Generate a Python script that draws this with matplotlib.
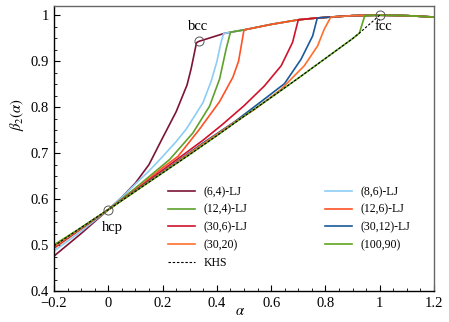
import numpy as np
import matplotlib
matplotlib.use('Agg')
import matplotlib.pyplot as plt
from matplotlib.ticker import MultipleLocator, FuncFormatter

plt.rcParams['font.family'] = ['Liberation Serif', 'DejaVu Serif']
plt.rcParams['mathtext.fontset'] = 'stix'

# upper envelope shared by all curves (bcc -> fcc -> beyond)
env_a = np.array([1/3, 0.425, 0.45, 0.5, 0.6, 0.7, 0.77, 0.82, 0.9, 1.0, 1.1, 1.2])
env_b = np.array([0.943, 0.960, 0.963, 0.968, 0.980, 0.990, 0.994, 0.996, 0.999, 1.0, 0.999, 0.996])

# lower branches (alpha, beta2)
a_64 = [-0.2, -0.1, 0, 0.05, 0.1, 0.15, 0.2, 0.25, 0.29, 0.305, 0.325, 1/3]
b_64 = [0.476, 0.525, 0.577, 0.604, 0.635, 0.675, 0.733, 0.79, 0.848, 0.883, 0.94, 0.943]

a_86 = [-0.2, -0.1, 0, 0.05, 0.116, 0.15, 0.201, 0.25, 0.287, 0.3, 0.349, 0.38, 0.4, 0.415, 0.425]
b_86 = [0.487, 0.530, 0.577, 0.604, 0.642, 0.661, 0.693, 0.725, 0.752, 0.764, 0.810, 0.858, 0.899, 0.94, 0.960]

a_124 = [-0.2, -0.1, 0, 0.1, 0.226, 0.312, 0.373, 0.41, 0.434, 0.45]
b_124 = [0.500, 0.537, 0.577, 0.624, 0.686, 0.744, 0.802, 0.861, 0.926, 0.963]

a_126 = [-0.2, -0.1, 0, 0.1, 0.2, 0.257, 0.336, 0.41, 0.459, 0.48, 0.5]
b_126 = [0.493, 0.535, 0.577, 0.620, 0.668, 0.693, 0.752, 0.812, 0.865, 0.9, 0.968]

a_306 = [-0.2, -0.1, 0, 0.1, 0.2, 0.349, 0.42, 0.5, 0.575, 0.637, 0.679, 0.7]
b_306 = [0.494, 0.536, 0.577, 0.619, 0.663, 0.728, 0.762, 0.803, 0.846, 0.89, 0.941, 0.990]

a_3012 = [-0.2, -0.1, 0, 0.1, 0.2, 0.349, 0.465, 0.563, 0.649, 0.71, 0.753, 0.77]
b_3012 = [0.496, 0.537, 0.577, 0.618, 0.659, 0.722, 0.768, 0.812, 0.851, 0.904, 0.955, 0.994]

a_3020 = [-0.2, -0.1, 0, 0.1, 0.2, 0.349, 0.465, 0.539, 0.637, 0.722, 0.771, 0.796, 0.82]
b_3020 = [0.496, 0.537, 0.577, 0.617, 0.658, 0.720, 0.767, 0.795, 0.839, 0.89, 0.933, 0.97, 0.996]

a_khs = [-0.2, -0.1, 0, 0.1, 0.2, 0.3, 0.4, 0.5, 0.6, 0.7, 0.8, 0.9, 0.925, 1.0]
b_khs = [0.498, 0.538, 0.577, 0.617, 0.657, 0.697, 0.738, 0.78, 0.821, 0.863, 0.906, 0.949, 0.961, 1.0]

a_10090 = a_khs[:-1] + [0.945]
b_10090 = [0.500] + b_khs[1:-1] + [0.999]

labels = ['(6,4)-LJ', '(8,6)-LJ', '(12,4)-LJ', '(12,6)-LJ', '(30,6)-LJ',
          '(30,12)-LJ', '(30,20)', '(100,90)']
colors = ['#7d1435', '#8ccdf5', '#5ca22c', '#ff5225', '#d0132c',
          '#1a5a9c', '#ff6e2e', '#5ea51e']
branches = [(a_64, b_64), (a_86, b_86), (a_124, b_124), (a_126, b_126),
            (a_306, b_306), (a_3012, b_3012), (a_3020, b_3020), (a_10090, b_10090)]

# special points
pts_a = [1/3, 0, 1]
pts_b = [0.943, 0.577, 1.0]


def full(a, b):
    a = np.asarray(a); b = np.asarray(b)
    keep = env_a > a[-1] + 1e-6
    return np.concatenate([a, env_a[keep]]), np.concatenate([b, env_b[keep]])


fig = plt.figure(figsize=(4.49, 3.22), dpi=100)
ax = fig.add_axes([54/449, 31/322, 380/449, 285/322])

handles = []
for (a, b), lab, c in zip(branches, labels, colors):
    x, y = full(a, b)
    h, = ax.plot(x, y, color=c, lw=1.2, label=lab, solid_joinstyle='round')
    handles.append(h)

hk, = ax.plot(a_khs, b_khs, color='k', lw=0.8, ls=(0, (2.2, 1.6)), label='KHS')

ax.plot(pts_a, pts_b, 'o', ms=6.5, mfc='none', mec='#555555', mew=0.7)
ax.text(0.329, 0.962, 'bcc', ha='center', va='bottom', fontsize=10.5)
ax.text(0.015, 0.552, 'hcp', ha='center', va='top', fontsize=10.5)
ax.text(0.982, 0.99, 'fcc', ha='left', va='top', fontsize=10.5)

ax.set_xlim(-0.2, 1.2)
ax.set_ylim(0.4, 1.02)
ax.xaxis.set_major_locator(MultipleLocator(0.2))
ax.xaxis.set_minor_locator(MultipleLocator(0.05))
ax.yaxis.set_major_locator(MultipleLocator(0.1))
ax.yaxis.set_minor_locator(MultipleLocator(0.025))
fmt = FuncFormatter(lambda v, p: ('%g' % round(v, 3)).replace('-', '\u2212'))
ax.xaxis.set_major_formatter(fmt)
ax.yaxis.set_major_formatter(fmt)
ax.tick_params(which='both', direction='in', top=False, right=False, labelsize=10.5)
ax.tick_params(which='major', length=4, width=0.8)
ax.tick_params(which='minor', length=2.5, width=0.6)
ax.tick_params(axis='x', which='major', pad=4)
for s in ['top', 'right']:
    ax.spines[s].set_color('#666666')
    ax.spines[s].set_linewidth(1.0)
for s in ['left', 'bottom']:
    ax.spines[s].set_linewidth(1.0)

ax.set_xlabel(r'$\alpha$', fontsize=10.5)
ax.set_ylabel(r'$\beta_2(\alpha)$', fontsize=10.5)
ax.xaxis.set_label_coords(0.49, -0.05)
ax.yaxis.set_label_coords(-0.075, 0.62)

order = [0, 2, 4, 6, None, 1, 3, 5, 7]
hs = [hk if i is None else handles[i] for i in order]
ax.legend(handles=hs, labels=[h.get_label() for h in hs], ncol=2, frameon=False,
          fontsize=8.5, loc='upper left', bbox_to_anchor=(168/449, 1 - 186/322),
          bbox_transform=fig.transFigure, borderpad=0, borderaxespad=0,
          handlelength=2.3, handletextpad=0.68, labelspacing=0.48, columnspacing=6.6)

fig.savefig('out.png', dpi=100)
